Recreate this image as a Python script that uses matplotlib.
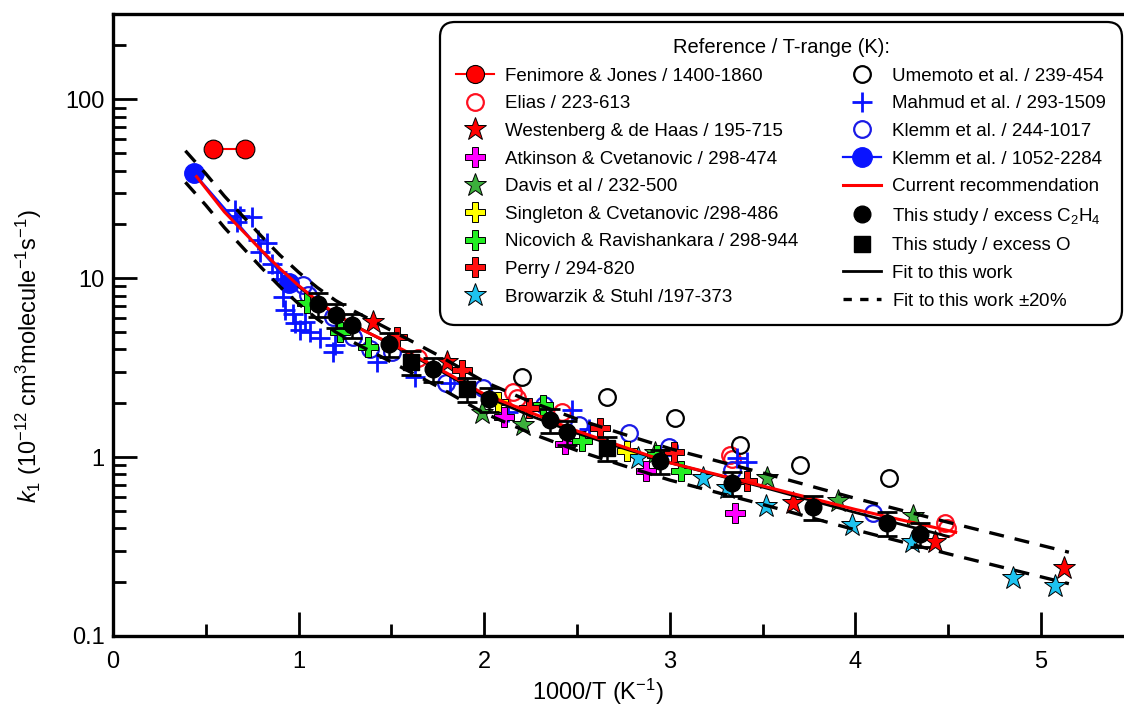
import numpy as np
import matplotlib
matplotlib.use("Agg")
import matplotlib.pyplot as plt
from matplotlib.lines import Line2D
from matplotlib.ticker import FixedLocator, FixedFormatter, MultipleLocator, LogLocator, NullFormatter

plt.rcParams['font.family'] = ['Liberation Sans', 'DejaVu Sans']
plt.rcParams['mathtext.fontset'] = 'custom'
plt.rcParams['mathtext.rm'] = 'Liberation Sans'
plt.rcParams['mathtext.it'] = 'Liberation Sans:italic'

# ---- data (x = 1000/T, y = k1 in 1e-12 cm3 molecule-1 s-1) ----
fenimore_x = [0.537, 0.713]
fenimore_k = [52.6, 52.6]

elias_x = [1.643, 2.155, 2.177, 2.419, 3.324, 3.335, 4.483, 4.494]
elias_k = [3.57, 2.31, 2.14, 1.78, 1.03, 0.97, 0.43, 0.40]

westenberg_x = [1.40, 1.80, 3.664, 4.43, 5.124]
westenberg_k = [5.68, 3.40, 0.553, 0.335, 0.24]

atkinson_x = [2.107, 2.435, 2.872, 3.351]
atkinson_k = [1.67, 1.18, 0.835, 0.49]

davis_x = [1.988, 2.209, 2.92, 3.524, 3.906, 4.31]
davis_k = [1.76, 1.51, 1.06, 0.76, 0.57, 0.47]

singleton_x = [2.074, 2.769]
singleton_k = [2.03, 1.08]

nicovich_x = [1.045, 1.223, 1.374, 2.317, 2.527, 2.93, 3.06]
nicovich_k = [7.25, 5.0, 4.12, 1.95, 1.23, 1.03, 0.835]

perry_x = [1.53, 1.88, 2.241, 2.624, 3.023, 3.416]
perry_k = [4.68, 3.06, 1.88, 1.45, 1.07, 0.74]

browarzik_x = [2.83, 3.18, 3.31, 3.52, 3.98, 4.305, 4.85, 5.075]
browarzik_k = [0.99, 0.76, 0.67, 0.53, 0.42, 0.335, 0.21, 0.19]

umemoto_x = [2.204, 2.662, 3.028, 3.378, 3.702, 4.181]
umemoto_k = [2.80, 2.16, 1.65, 1.17, 0.90, 0.76]

mahmud_x = [0.657, 0.684, 0.749, 0.668, 0.781, 0.830, 0.792, 0.857, 0.884, 0.905,
            0.916, 0.927, 0.970, 0.981, 1.008, 1.061, 1.034, 1.115, 1.185, 1.196,
            1.422, 1.627, 1.816, 2.128, 2.473, 2.565, 3.362, 3.416]
mahmud_k = [24.0, 22.2, 21.9, 20.6, 16.3, 15.7, 14.0, 12.0, 10.8, 9.87,
            7.83, 6.63, 6.29, 5.61, 5.12, 4.99, 5.68, 4.62, 3.86, 4.22,
            3.40, 2.80, 2.59, 1.78, 1.83, 1.43, 0.99, 0.94]

klemm_x = [1.024, 1.051, 1.185, 1.293, 1.385, 1.503, 1.794, 1.994, 2.322, 2.511,
           2.78, 2.996, 3.335, 4.095]
klemm_k = [9.14, 8.03, 6.05, 4.68, 4.01, 3.86, 2.59, 2.43, 1.95, 1.51,
           1.36, 1.14, 0.85, 0.49]

klemm_hi_x = [0.437, 0.95]
klemm_hi_k = [38.6, 9.4]

rec_x = [0.45, 0.6, 0.8, 0.9, 1.0, 1.1, 1.2, 1.35, 1.5, 1.75, 2.0, 2.5, 3.0, 3.5, 4.0, 4.54]
rec_k = [37.0, 23.5, 14.3, 11.3, 9.1, 7.5, 6.3, 5.1, 4.3, 3.15, 2.25, 1.4, 0.93, 0.69, 0.51, 0.38]

c2h4_x = [1.105, 1.20, 1.29, 1.487, 1.724, 2.026, 2.355, 2.446, 2.947, 3.335, 3.77, 4.17, 4.35]
c2h4_k = [7.16, 6.21, 5.46, 4.28, 3.10, 2.11, 1.61, 1.38, 0.95, 0.716, 0.526, 0.428, 0.371]

excO_x = [1.606, 1.907, 2.662]
excO_k = [3.40, 2.40, 1.12]

fit_x = [0.39, 0.5, 0.6, 0.7, 0.8, 0.9, 1.0, 1.1, 1.2, 1.3, 1.5, 1.75, 2.0, 2.25,
         2.5, 2.75, 3.0, 3.5, 4.0, 4.5, 5.15]
fit_k = [43.0, 32.0, 24.0, 18.5, 14.3, 11.2, 9.0, 7.4, 6.25, 5.45, 4.25, 3.1, 2.2, 1.7,
         1.36, 1.12, 0.93, 0.68, 0.49, 0.36, 0.245]

fig = plt.figure(figsize=(11.24, 7.11), dpi=100)
ax = fig.add_axes([113 / 1124, 75 / 711, 1011 / 1124, 622 / 711])

ref_kw = dict(linestyle='none', zorder=3)
ax.plot(elias_x, elias_k, marker='o', ms=12, mfc='none', mec='#ff1020', mew=1.6, **ref_kw)
ax.plot(umemoto_x, umemoto_k, marker='o', ms=12, mfc='none', mec='black', mew=1.6, **ref_kw)
ax.plot(klemm_x, klemm_k, marker='o', ms=12, mfc='none', mec='#1a1ae6', mew=1.6, **ref_kw)
ax.plot(mahmud_x, mahmud_k, marker='+', ms=15, mec='#0a14ff', mew=2.0, **ref_kw)
ax.plot(westenberg_x, westenberg_k, marker='*', ms=17, mfc='#ff0000', mec='black', mew=0.7, **ref_kw)
ax.plot(davis_x, davis_k, marker='*', ms=17, mfc='#3cb03c', mec='black', mew=0.7, **ref_kw)
ax.plot(browarzik_x, browarzik_k, marker='*', ms=17, mfc='#1ec3f0', mec='black', mew=0.7, **ref_kw)
ax.plot(atkinson_x, atkinson_k, marker='P', ms=14, mfc='#ff00ff', mec='black', mew=0.7, **ref_kw)
ax.plot(singleton_x, singleton_k, marker='P', ms=14, mfc='#ffff00', mec='black', mew=0.7, **ref_kw)
ax.plot(nicovich_x, nicovich_k, marker='P', ms=14, mfc='#22ee22', mec='black', mew=0.7, **ref_kw)
ax.plot(perry_x, perry_k, marker='P', ms=14, mfc='#ff1010', mec='black', mew=0.7, **ref_kw)

ax.plot(fenimore_x, fenimore_k, color='#ff0000', lw=1.5, marker='o', ms=13.5, mfc='#ff0000', mec='black', mew=0.8, zorder=4)
ax.plot(klemm_hi_x, klemm_hi_k, color='#0a14ff', lw=1.6, marker='o', ms=14, mfc='#0a14ff', mec='#0a14ff', zorder=4)

# fit lines
fit_x = np.array(fit_x)
fit_k = np.array(fit_k)
solid = (fit_x >= 1.0) & (fit_x <= 4.5)
ax.plot(fit_x, fit_k * 1.2, color='black', lw=2.4, ls=(0, (4.5, 3.3)), zorder=4)
ax.plot(fit_x, fit_k * 0.8, color='black', lw=2.4, ls=(0, (4.5, 3.3)), zorder=4)
ax.plot(fit_x[solid], fit_k[solid], color='black', lw=2.0, zorder=4)
ax.plot(rec_x, rec_k, color='#ff0000', lw=2.2, zorder=4)

c2h4_k = np.array(c2h4_k)
excO_k = np.array(excO_k)
ax.errorbar(c2h4_x, c2h4_k, yerr=0.15 * c2h4_k, fmt='o', ms=12, color='black', ecolor='black',
            elinewidth=1.8, capsize=7, capthick=2, zorder=5)
ax.errorbar(excO_x, excO_k, yerr=0.15 * excO_k, fmt='s', ms=11, color='black', ecolor='black',
            elinewidth=1.8, capsize=7, capthick=2, zorder=5)

ax.set_yscale('log')
ax.set_xlim(0, 5.447)
ax.set_ylim(0.1, 300)

ax.xaxis.set_major_locator(FixedLocator([0, 1, 2, 3, 4, 5]))
ax.xaxis.set_minor_locator(MultipleLocator(0.5))
ax.yaxis.set_major_locator(FixedLocator([0.1, 1, 10, 100]))
ax.yaxis.set_major_formatter(FixedFormatter(['0.1', '1', '10', '100']))
ax.yaxis.set_minor_locator(LogLocator(base=10, subs=np.arange(2, 10)))
ax.yaxis.set_minor_formatter(NullFormatter())

ax.tick_params(which='major', direction='in', length=17, width=2, labelsize=17, pad=6)
ax.tick_params(axis='x', which='major', pad=11)
ax.tick_params(which='minor', direction='in', length=9, width=2)
ax.tick_params(top=False, right=False)
for s in ['left', 'bottom', 'top']:
    ax.spines[s].set_linewidth(2.4)
ax.spines['right'].set_visible(False)

ax.set_xlabel('1000/T (K$^{-1}$)', fontsize=17)
ax.set_ylabel(r'$k_1$ (10$^{-12}$ cm$^3$molecule$^{-1}$s$^{-1}$)', fontsize=17)
ax.xaxis.set_label_coords(0.48, -0.065)
ax.yaxis.set_label_coords(-0.068, 0.45)

# legend
def h(**kw):
    base = dict(color='none', linestyle='none')
    base.update(kw)
    return Line2D([], [], **base)

handles = [
    Line2D([], [], color='#ff0000', lw=1.5, marker='o', ms=13, mfc='#ff0000', mec='black', mew=0.8),
    h(marker='o', ms=12, mfc='none', mec='#ff1020', mew=1.6),
    h(marker='*', ms=17, mfc='#ff0000', mec='black', mew=0.7),
    h(marker='P', ms=14, mfc='#ff00ff', mec='black', mew=0.7),
    h(marker='*', ms=17, mfc='#3cb03c', mec='black', mew=0.7),
    h(marker='P', ms=14, mfc='#ffff00', mec='black', mew=0.7),
    h(marker='P', ms=14, mfc='#22ee22', mec='black', mew=0.7),
    h(marker='P', ms=14, mfc='#ff1010', mec='black', mew=0.7),
    h(marker='*', ms=17, mfc='#1ec3f0', mec='black', mew=0.7),
    h(marker='o', ms=12, mfc='none', mec='black', mew=1.6),
    h(marker='+', ms=15, mec='#0a14ff', mew=2.0),
    h(marker='o', ms=12, mfc='none', mec='#1a1ae6', mew=1.6),
    Line2D([], [], color='#0a14ff', lw=1.6, marker='o', ms=14, mfc='#0a14ff', mec='#0a14ff'),
    Line2D([], [], color='#ff0000', lw=2.2),
    h(marker='o', ms=12, mfc='black', mec='black'),
    h(marker='s', ms=11, mfc='black', mec='black'),
    Line2D([], [], color='black', lw=2.0),
    Line2D([], [], color='black', lw=2.4, ls=(0, (2.5, 2.5))),
]
labels = [
    'Fenimore & Jones / 1400-1860', 'Elias / 223-613', 'Westenberg & de Haas / 195-715',
    'Atkinson & Cvetanovic / 298-474', 'Davis et al / 232-500', 'Singleton & Cvetanovic /298-486',
    'Nicovich & Ravishankara / 298-944', 'Perry / 294-820', 'Browarzik & Stuhl /197-373',
    'Umemoto et al. / 239-454', 'Mahmud et al. / 293-1509', 'Klemm et al. / 244-1017',
    'Klemm et al. / 1052-2284', 'Current recommendation', 'This study / excess C$_2$H$_4$',
    'This study / excess O', 'Fit to this work', r'Fit to this work $\pm$20%',
]
leg = ax.legend(handles, labels, ncol=2, loc='upper right', bbox_to_anchor=(0.998, 0.987),
                borderaxespad=0, fontsize=13.5, title='Reference / T-range (K):', title_fontsize=14.5,
                frameon=True, fancybox=True, edgecolor='black', framealpha=1,
                handlelength=2.0, handletextpad=0.6, columnspacing=2.4, labelspacing=0.56,
                borderpad=0.85)
leg.get_frame().set_linewidth(1.6)
leg.get_frame().set_boxstyle('round,pad=0,rounding_size=0.8')
leg.set_zorder(10)

fig.savefig('out.png', dpi=100)
